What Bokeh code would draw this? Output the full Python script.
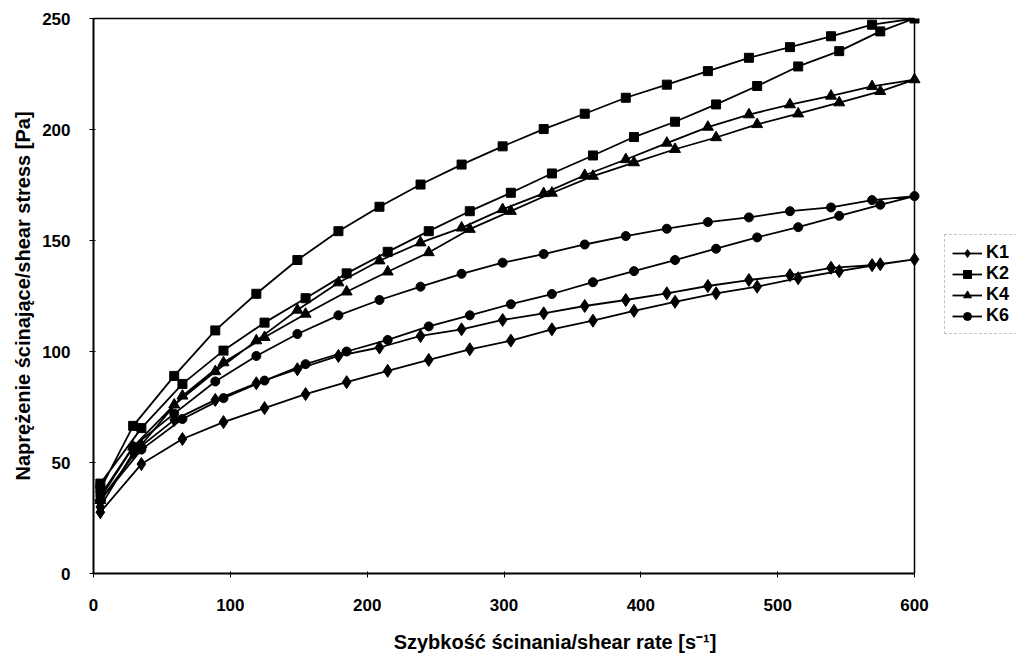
from bokeh.plotting import figure
from bokeh.models import Range1d, FixedTicker, Legend, LegendItem, LinearAxis, Span
from bokeh.embed import file_html
from bokeh.resources import INLINE

# shear rate [1/s] - increasing and decreasing branches
rate_up = [5, 35, 65, 95, 125, 155, 185, 215, 245, 275, 305, 335, 365, 395, 425, 455, 485, 515, 545, 575, 600]
rate_down = [569, 539, 509, 479, 449, 419, 389, 359, 329, 299, 269, 239, 209, 179, 149, 119, 89, 59, 29, 5]

# shear stress [Pa]
K1_up = [27.6, 49.3, 60.6, 68.2, 74.5, 80.8, 86.2, 91.3, 96.2, 101.0, 104.9, 110.0, 113.9, 118.3, 122.4, 126.2, 129.2, 133.0, 136.2, 139.3, 141.5]
K1_down = [138.9, 137.7, 134.4, 132.2, 129.5, 126.2, 123.2, 120.5, 117.2, 114.2, 110.0, 107.0, 101.8, 98.0, 92.0, 85.7, 78.2, 69.2, 54.5, 30.0]

K2_up = [40.5, 65.5, 85.4, 100.4, 113.0, 124.0, 135.2, 144.9, 154.2, 163.2, 171.5, 180.2, 188.3, 196.6, 203.5, 211.3, 219.6, 228.4, 235.3, 244.2, 250.0]
K2_down = [247.2, 242.0, 237.1, 232.3, 226.3, 220.2, 214.3, 207.1, 200.2, 192.4, 184.2, 175.2, 165.2, 154.2, 141.2, 126.0, 109.5, 89.0, 66.5, 38.0]

K4_up = [33.0, 58.0, 80.0, 95.0, 106.4, 116.9, 126.9, 135.9, 144.6, 155.1, 163.2, 171.4, 179.0, 185.1, 191.1, 196.4, 202.3, 207.1, 212.1, 217.2, 222.5]
K4_down = [219.4, 215.1, 211.2, 206.7, 201.1, 193.9, 186.5, 179.4, 171.2, 164.0, 155.7, 149.0, 140.9, 131.0, 118.7, 104.9, 91.0, 76.0, 57.0, 34.0]

K6_up = [33.0, 55.8, 69.6, 79.0, 86.9, 94.3, 100.0, 105.2, 111.3, 116.3, 121.3, 125.9, 131.2, 136.2, 141.2, 146.3, 151.4, 156.0, 161.1, 166.1, 170.0]
K6_down = [168.2, 164.9, 163.2, 160.4, 158.3, 155.3, 152.0, 148.2, 143.9, 140.0, 135.0, 129.2, 123.2, 116.3, 107.9, 98.0, 86.5, 72.0, 57.2, 35.0]

series_names = ["K1", "K2", "K4", "K6"]
series_up = [K1_up, K2_up, K4_up, K6_up]
series_down = [K1_down, K2_down, K4_down, K6_down]
markers = ["diamond", "square", "triangle", "circle"]
marker_sizes = [13, 9, 11, 9]

x_ticks = [0, 100, 200, 300, 400, 500, 600]
y_ticks = [0, 50, 100, 150, 200, 250]

FONT = "Liberation Sans"

# layout: plot area spans 821 px for 0..600; the frame continues to the right
# (without a border) so that the legend can sit beside the plot area
W, LEFT = 1016, 93
x_view_end = x_ticks[-1] * (W - LEFT) / 821.0

p = figure(width=W, height=655, output_backend="svg", toolbar_location=None,
           x_range=Range1d(x_ticks[0], x_view_end), y_range=Range1d(y_ticks[0], y_ticks[-1]),
           min_border_left=LEFT, min_border_right=0, min_border_top=18, min_border_bottom=81)

p.background_fill_color = "white"
p.border_fill_color = "white"
p.outline_line_color = None
p.xgrid.grid_line_color = None
p.ygrid.grid_line_color = None

for ax in (p.xaxis[0], p.yaxis[0]):
    ax.axis_line_color = "black"
    ax.axis_line_width = 2
    ax.major_tick_line_color = "black"
    ax.major_tick_out = 4
    ax.major_tick_in = 2
    ax.minor_tick_line_color = None
    ax.major_label_text_font = FONT
    ax.major_label_text_font_style = "bold"
    ax.major_label_text_font_size = "17px"
    ax.major_label_text_color = "black"
    ax.axis_label_text_font = FONT
    ax.axis_label_text_font_style = "bold"
    ax.axis_label_text_font_size = "20px"
    ax.axis_label_text_color = "black"

p.xaxis[0].ticker = FixedTicker(ticks=x_ticks)
p.xaxis[0].bounds = (x_ticks[0], x_ticks[-1])
p.yaxis[0].ticker = FixedTicker(ticks=y_ticks)
p.xaxis[0].major_label_standoff = 21
p.yaxis[0].major_label_standoff = 19
p.xaxis[0].axis_label = "Szybkość ścinania/shear rate [s⁻¹]"
p.yaxis[0].axis_label = "Naprężenie ścinające/shear stress [Pa]"
p.xaxis[0].axis_label_standoff = 17
p.yaxis[0].axis_label_standoff = 5

# top and right border of the plot area
top_axis = LinearAxis(ticker=FixedTicker(ticks=[]), bounds=(x_ticks[0], x_ticks[-1]),
                      axis_line_color="black", axis_line_width=1.5,
                      major_tick_line_color=None, minor_tick_line_color=None)
p.add_layout(top_axis, "above")
p.add_layout(Span(location=x_ticks[-1], dimension="height", line_color="black", line_width=1.5))

items = []
for name, up, down, m, s in zip(series_names, series_up, series_down, markers, marker_sizes):
    xs = rate_up + rate_down
    ys = up + down
    lr = p.line(xs, ys, line_color="black", line_width=1.8)
    sr = p.scatter(xs, ys, marker=m, size=s, fill_color="black", line_color="black")
    items.append(LegendItem(label=name, renderers=[lr, sr]))

legend = Legend(items=items, location=(851, 239))
legend.label_text_font = FONT
legend.label_text_font_style = "bold"
legend.label_text_font_size = "18px"
legend.label_text_color = "black"
legend.glyph_width = 30
legend.glyph_height = 20
legend.label_height = 20
legend.label_standoff = 4
legend.spacing = 0
legend.padding = 7
legend.margin = 0
legend.border_line_color = "#888888"
legend.border_line_dash = "3 2"
legend.border_line_width = 1
legend.background_fill_color = "white"
p.add_layout(legend, "center")

open("out.html", "w").write(file_html(p, INLINE))
